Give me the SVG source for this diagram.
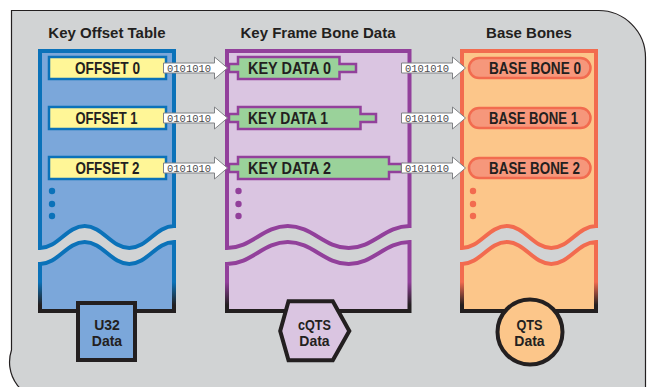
<svg xmlns="http://www.w3.org/2000/svg" width="650" height="387" viewBox="0 0 650 387">
  <style>
    .hdr { font-family: "Liberation Sans", Arial, sans-serif; font-weight: bold; font-size: 15px; fill: #231f20; text-anchor: middle; }
    .lbl { font-family: "Liberation Sans", Arial, sans-serif; font-weight: bold; font-size: 16.5px; fill: #231f20; }
    .tag { font-family: "Liberation Sans", Arial, sans-serif; font-weight: bold; font-size: 14px; fill: #231f20; text-anchor: middle; }
    .bits { font-family: "Liberation Mono", "Courier New", monospace; font-size: 10.5px; fill: #4d4d4f; }
    .blue { fill: #7ba7da; }
    .purple { fill: #dac5e1; }
    .orange { fill: #fcc68a; }
    .offset { fill: #fff697; stroke: #0b72b9; stroke-width: 2.5; }
    .key { fill: #9ad29a; stroke: #92409b; stroke-width: 2.5; stroke-linejoin: miter; }
    .bone { fill: #f6977b; stroke: #f26b4f; stroke-width: 2.5; }
    .arrow { fill: #ffffff; stroke: #808285; stroke-width: 1; }
  </style>
  <defs>
    <linearGradient id="gBlue" gradientUnits="userSpaceOnUse" x1="0" y1="282" x2="0" y2="305">
      <stop offset="0" stop-color="#0b72b9"/>
      <stop offset="1" stop-color="#231f20"/>
    </linearGradient>
    <linearGradient id="gPurple" gradientUnits="userSpaceOnUse" x1="0" y1="282" x2="0" y2="305">
      <stop offset="0" stop-color="#92409b"/>
      <stop offset="1" stop-color="#231f20"/>
    </linearGradient>
    <linearGradient id="gOrange" gradientUnits="userSpaceOnUse" x1="0" y1="282" x2="0" y2="305">
      <stop offset="0" stop-color="#f26b4f"/>
      <stop offset="1" stop-color="#231f20"/>
    </linearGradient>
    <polygon id="arrow" class="arrow" points="0,-5 51,-5 51,-11 64,0 51,11 51,5 0,5"/>
  </defs>

  <!-- background panel -->
  <path d="M11.5,10.5 H598 A47,47 0 0 1 645.5,57.5 V400 H49.5 A38,38 0 0 1 11.5,350 Z" fill="#d1d3d4" stroke="#231f20" stroke-width="1.2"/>

  <!-- column headers -->
  <text class="hdr" x="107" y="38">Key Offset Table</text>
  <text class="hdr" x="318" y="38">Key Frame Bone Data</text>
  <text class="hdr" x="529" y="38">Base Bones</text>

  <!-- Key Offset Table -->
  <g id="key-offset-table">
    <path class="blue" stroke="#0b72b9" stroke-width="4" d="M40,248 V51 H174 V226 C156.1,226 147.2,248 129.3,248 C111.4,248 102.6,226 84.7,226 C66.8,226 57.9,248 40,248 Z"/>
    <path class="blue" stroke="url(#gBlue)" stroke-width="4" d="M40,264 C57.9,264 66.8,242 84.7,242 C102.6,242 111.4,264 129.3,264 C147.2,264 156.1,242 174,242 V311 H40 Z"/>
    <g id="offset-0">
      <rect class="offset" x="49" y="57" width="117" height="22"/>
      <text class="lbl" x="107.5" y="74" text-anchor="middle" textLength="65" lengthAdjust="spacingAndGlyphs">OFFSET 0</text>
    </g>
    <g id="offset-1">
      <rect class="offset" x="49" y="107" width="117" height="22"/>
      <text class="lbl" x="106.5" y="124" text-anchor="middle" textLength="62" lengthAdjust="spacingAndGlyphs">OFFSET 1</text>
    </g>
    <g id="offset-2">
      <rect class="offset" x="49" y="157" width="117" height="22"/>
      <text class="lbl" x="107.5" y="174" text-anchor="middle" textLength="64" lengthAdjust="spacingAndGlyphs">OFFSET 2</text>
    </g>
    <g fill="#0b72b9">
      <circle cx="52" cy="191" r="3.2"/>
      <circle cx="52" cy="204" r="3.2"/>
      <circle cx="52" cy="216" r="3.2"/>
    </g>
    <g id="u32-data">
      <rect class="blue" stroke="#231f20" stroke-width="4" x="78" y="303" width="57" height="57"/>
      <text class="tag" x="107" y="330">U32</text>
      <text class="tag" x="107" y="345.5">Data</text>
    </g>
  </g>

  <!-- Key Frame Bone Data -->
  <g id="key-frame-bone-data">
    <path class="purple" stroke="#92409b" stroke-width="4" d="M227,248 V51 H409.5 V226 C385.2,226 373,248 348.7,248 C324.3,248 312.2,226 287.8,226 C263.5,226 251.3,248 227,248 Z"/>
    <path class="purple" stroke="url(#gPurple)" stroke-width="4" d="M227,264 C251.3,264 263.5,242 287.8,242 C312.2,242 324.3,264 348.7,264 C373,264 385.2,242 409.5,242 V311 H227 Z"/>
    <g id="key-data-0">
      <path class="key" d="M229,64 H238 V57 H339.5 V64 H356 V72 H339.5 V79 H238 V72 H229 Z"/>
      <text class="lbl" x="248" y="74" textLength="83" lengthAdjust="spacingAndGlyphs">KEY DATA 0</text>
    </g>
    <g id="key-data-1">
      <path class="key" d="M229,114 H238 V107 H360.5 V114 H376 V122 H360.5 V129 H238 V122 H229 Z"/>
      <text class="lbl" x="248" y="124" textLength="80" lengthAdjust="spacingAndGlyphs">KEY DATA 1</text>
    </g>
    <g id="key-data-2">
      <path class="key" d="M229,164 H238 V157 H389 V164 H402 V172 H389 V179 H238 V172 H229 Z"/>
      <text class="lbl" x="248" y="174" textLength="83" lengthAdjust="spacingAndGlyphs">KEY DATA 2</text>
    </g>
    <g fill="#92409b">
      <circle cx="238.5" cy="191" r="3.2"/>
      <circle cx="238.5" cy="204" r="3.2"/>
      <circle cx="238.5" cy="216" r="3.2"/>
    </g>
    <g id="cqts-data">
      <polygon class="purple" stroke="#231f20" stroke-width="4" stroke-linejoin="miter" points="288.5,301.3 332.8,301.3 349.3,331 332.8,360.3 288.5,360.3 280.2,331"/>
      <text class="tag" x="314.5" y="330" textLength="33" lengthAdjust="spacingAndGlyphs">cQTS</text>
      <text class="tag" x="314.5" y="345.5">Data</text>
    </g>
  </g>

  <!-- Base Bones -->
  <g id="base-bones">
    <path class="orange" stroke="#f26b4f" stroke-width="4" d="M462,248 V51 H596 V226 C578.1,226 569.2,248 551.3,248 C533.4,248 524.6,226 506.7,226 C488.8,226 479.9,248 462,248 Z"/>
    <path class="orange" stroke="url(#gOrange)" stroke-width="4" d="M462,264 C479.9,264 488.8,242 506.7,242 C524.6,242 533.4,264 551.3,264 C569.2,264 578.1,242 596,242 V311 H462 Z"/>
    <g id="base-bone-0">
      <rect class="bone" x="469" y="58" width="121.5" height="20" rx="10"/>
      <text class="lbl" x="489" y="74" textLength="92" lengthAdjust="spacingAndGlyphs">BASE BONE 0</text>
    </g>
    <g id="base-bone-1">
      <rect class="bone" x="469" y="108" width="121.5" height="20" rx="10"/>
      <text class="lbl" x="489" y="124" textLength="89" lengthAdjust="spacingAndGlyphs">BASE BONE 1</text>
    </g>
    <g id="base-bone-2">
      <rect class="bone" x="469" y="158" width="121.5" height="20" rx="10"/>
      <text class="lbl" x="489" y="174" textLength="91" lengthAdjust="spacingAndGlyphs">BASE BONE 2</text>
    </g>
    <g fill="#f26b4f">
      <circle cx="473" cy="191" r="3.2"/>
      <circle cx="473" cy="204" r="3.2"/>
      <circle cx="473" cy="216" r="3.2"/>
    </g>
    <g id="qts-data">
      <circle class="orange" stroke="#231f20" stroke-width="4" cx="530" cy="332" r="32.5"/>
      <text class="tag" x="529.5" y="330" textLength="26" lengthAdjust="spacingAndGlyphs">QTS</text>
      <text class="tag" x="529.5" y="345.5">Data</text>
    </g>
  </g>

  <!-- connectors: bit-stream arrows -->
  <g id="connectors">
    <use href="#arrow" x="163.5" y="68"/>
    <use href="#arrow" x="163.5" y="118"/>
    <use href="#arrow" x="163.5" y="168"/>
    <text class="bits" x="167" y="71.5">0101010</text>
    <text class="bits" x="167" y="121.5">0101010</text>
    <text class="bits" x="167" y="171.5">0101010</text>
    <use href="#arrow" x="401.5" y="68"/>
    <use href="#arrow" x="401.5" y="118"/>
    <use href="#arrow" x="401.5" y="168"/>
    <text class="bits" x="405" y="71.5">0101010</text>
    <text class="bits" x="405" y="121.5">0101010</text>
    <text class="bits" x="405" y="171.5">0101010</text>
  </g>
</svg>
